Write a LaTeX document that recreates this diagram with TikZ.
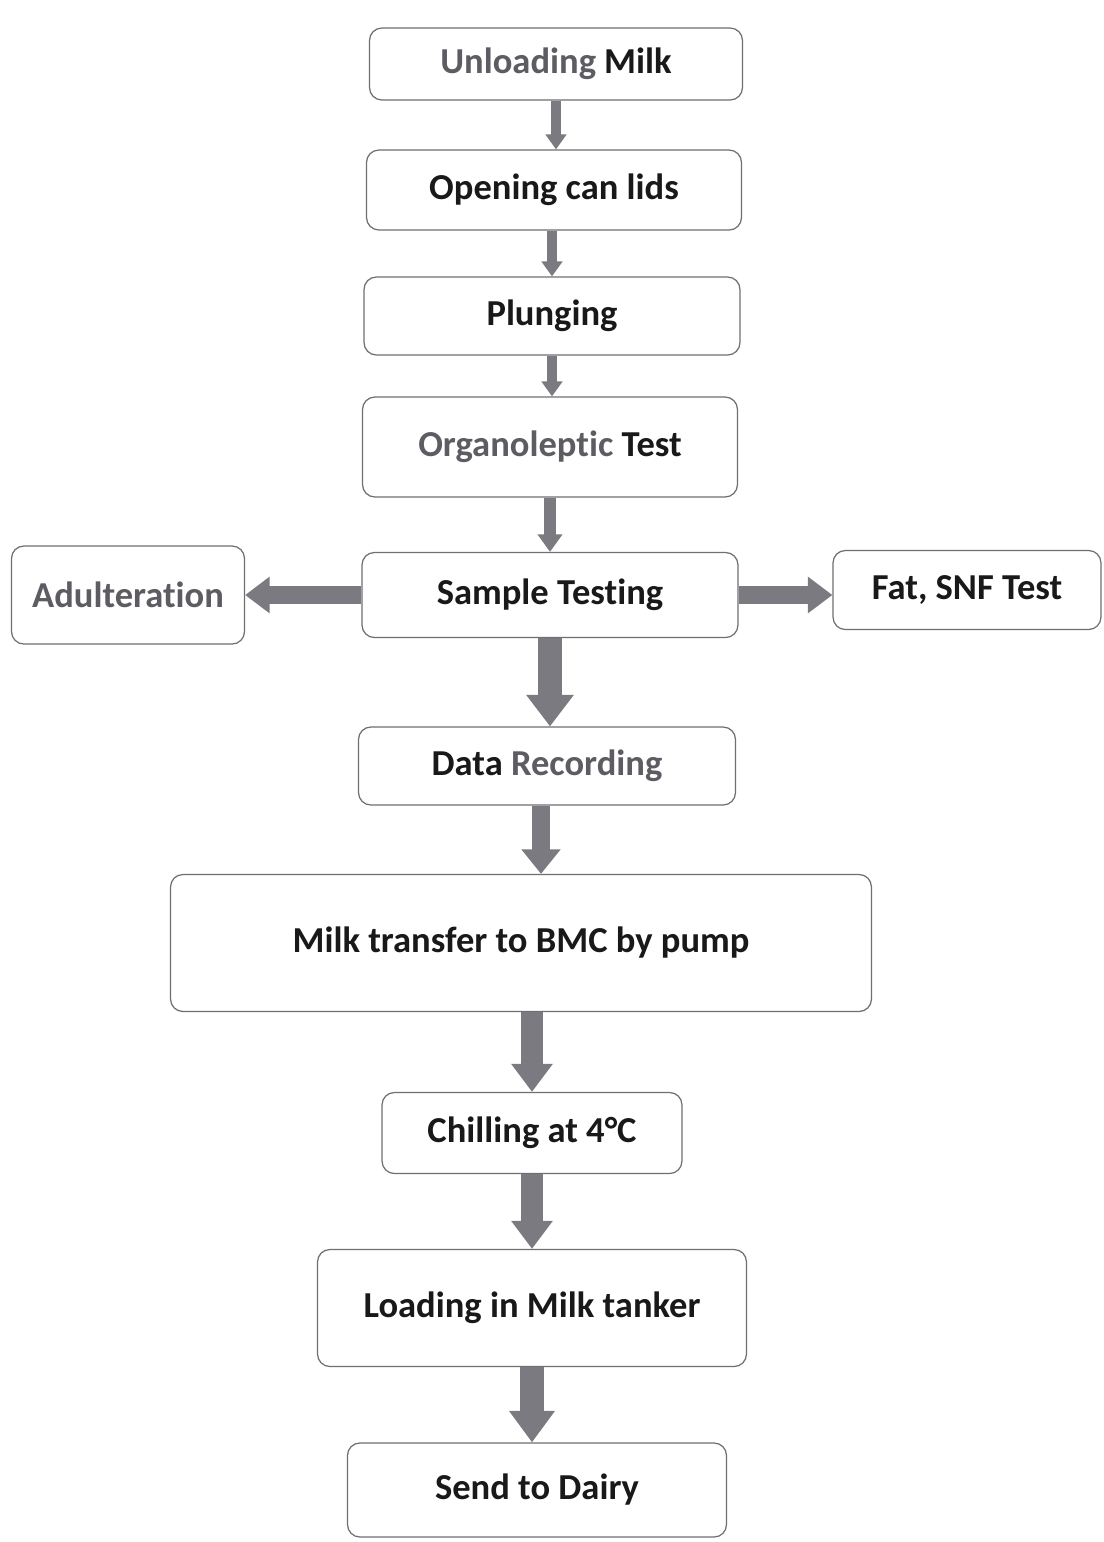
\documentclass[tikz,border=0pt]{standalone}
\usepackage{fontspec}
\setmainfont[Ligatures=NoCommon]{Carlito}
\usepackage{tikz}
\usetikzlibrary{arrows.meta,positioning,calc}
\definecolor{boxline}{RGB}{110,110,115}
\definecolor{flowgray}{RGB}{122,122,128}
\definecolor{fadetxt}{RGB}{92,92,98}

\begin{document}
\begin{tikzpicture}[x=0.02cm,y=-0.02cm,font=\fontsize{20.8}{24}\selectfont\bfseries,
  stage/.style={draw=boxline,line width=0.7pt,rounded corners=7pt,fill=white,text=black!90,inner sep=2pt},
  flow/.style n args={3}{draw=flowgray,line width=#1,-{Triangle[width=#2,length=#3]}}]
\useasboundingbox (0,0) rectangle (1103,1542);
% main line of stages
\node[stage,minimum width=7.46cm,minimum height=1.44cm] (unload) at (556,64) {\textcolor{fadetxt}{Unloading} Milk};
\node[stage,minimum width=7.5cm,minimum height=1.6cm] (lids) at (554,190) {Opening can lids};
\node[stage,minimum width=7.52cm,minimum height=1.56cm] (plunge) at (552,316) {Plunging};
\node[stage,minimum width=7.5cm,minimum height=2.0cm] (organo) at (550,447) {\textcolor{fadetxt}{Organoleptic} Test};
\node[stage,minimum width=7.52cm,minimum height=1.7cm] (sample) at (550,595) {Sample Testing};
\node[stage,minimum width=4.66cm,minimum height=1.96cm] (adult) at (128,595) {\textcolor{fadetxt}{Adulteration}};
\node[stage,minimum width=5.36cm,minimum height=1.58cm] (fat) at (967,590) {Fat, SNF Test};
\node[stage,minimum width=7.54cm,minimum height=1.56cm] (data) at (547,766) {Data \textcolor{fadetxt}{Recording}};
\node[stage,minimum width=14.02cm,minimum height=2.74cm] (bmc) at (521,943) {Milk transfer to BMC by pump};
\node[stage,minimum width=6.0cm,minimum height=1.62cm] (chill) at (532,1133) {Chilling at 4°C};
\node[stage,minimum width=8.58cm,minimum height=2.34cm] (tanker) at (532,1308) {Loading in Milk tanker};
\node[stage,minimum width=7.58cm,minimum height=1.88cm] (dairy) at (537,1490) {Send to Dairy};
% arrows
\draw[flow={5.7pt}{11.5pt}{8.5pt}] (unload.south) -- (unload.south |- lids.north);
\draw[flow={5.7pt}{11.5pt}{8.5pt}] (plunge.north |- lids.south) -- (plunge.north);
\draw[flow={5.7pt}{11.5pt}{8.5pt}] (plunge.south) -- (plunge.south |- organo.north);
\draw[flow={6.8pt}{13.6pt}{10pt}] (organo.south) -- (organo.south |- sample.north);
\draw[flow={10.2pt}{20pt}{14pt}] (sample.west) -- (adult.east);
\draw[flow={10.2pt}{20pt}{14pt}] (sample.east) -- (sample.east -| fat.west);
\draw[flow={13.6pt}{26pt}{18pt}] (sample.south) -- (sample.south |- data.north);
\draw[flow={10.2pt}{21.5pt}{14pt}] ([xshift=-0.12cm]data.south) -- ([xshift=-0.12cm]data.south |- bmc.north);
\draw[flow={12.5pt}{22.7pt}{16pt}] (chill.north |- bmc.south) -- (chill.north);
\draw[flow={12.5pt}{22.7pt}{16pt}] (chill.south) -- (chill.south |- tanker.north);
\draw[flow={13.6pt}{25pt}{18pt}] (tanker.south) -- (tanker.south |- dairy.north);
\end{tikzpicture}
\end{document}
